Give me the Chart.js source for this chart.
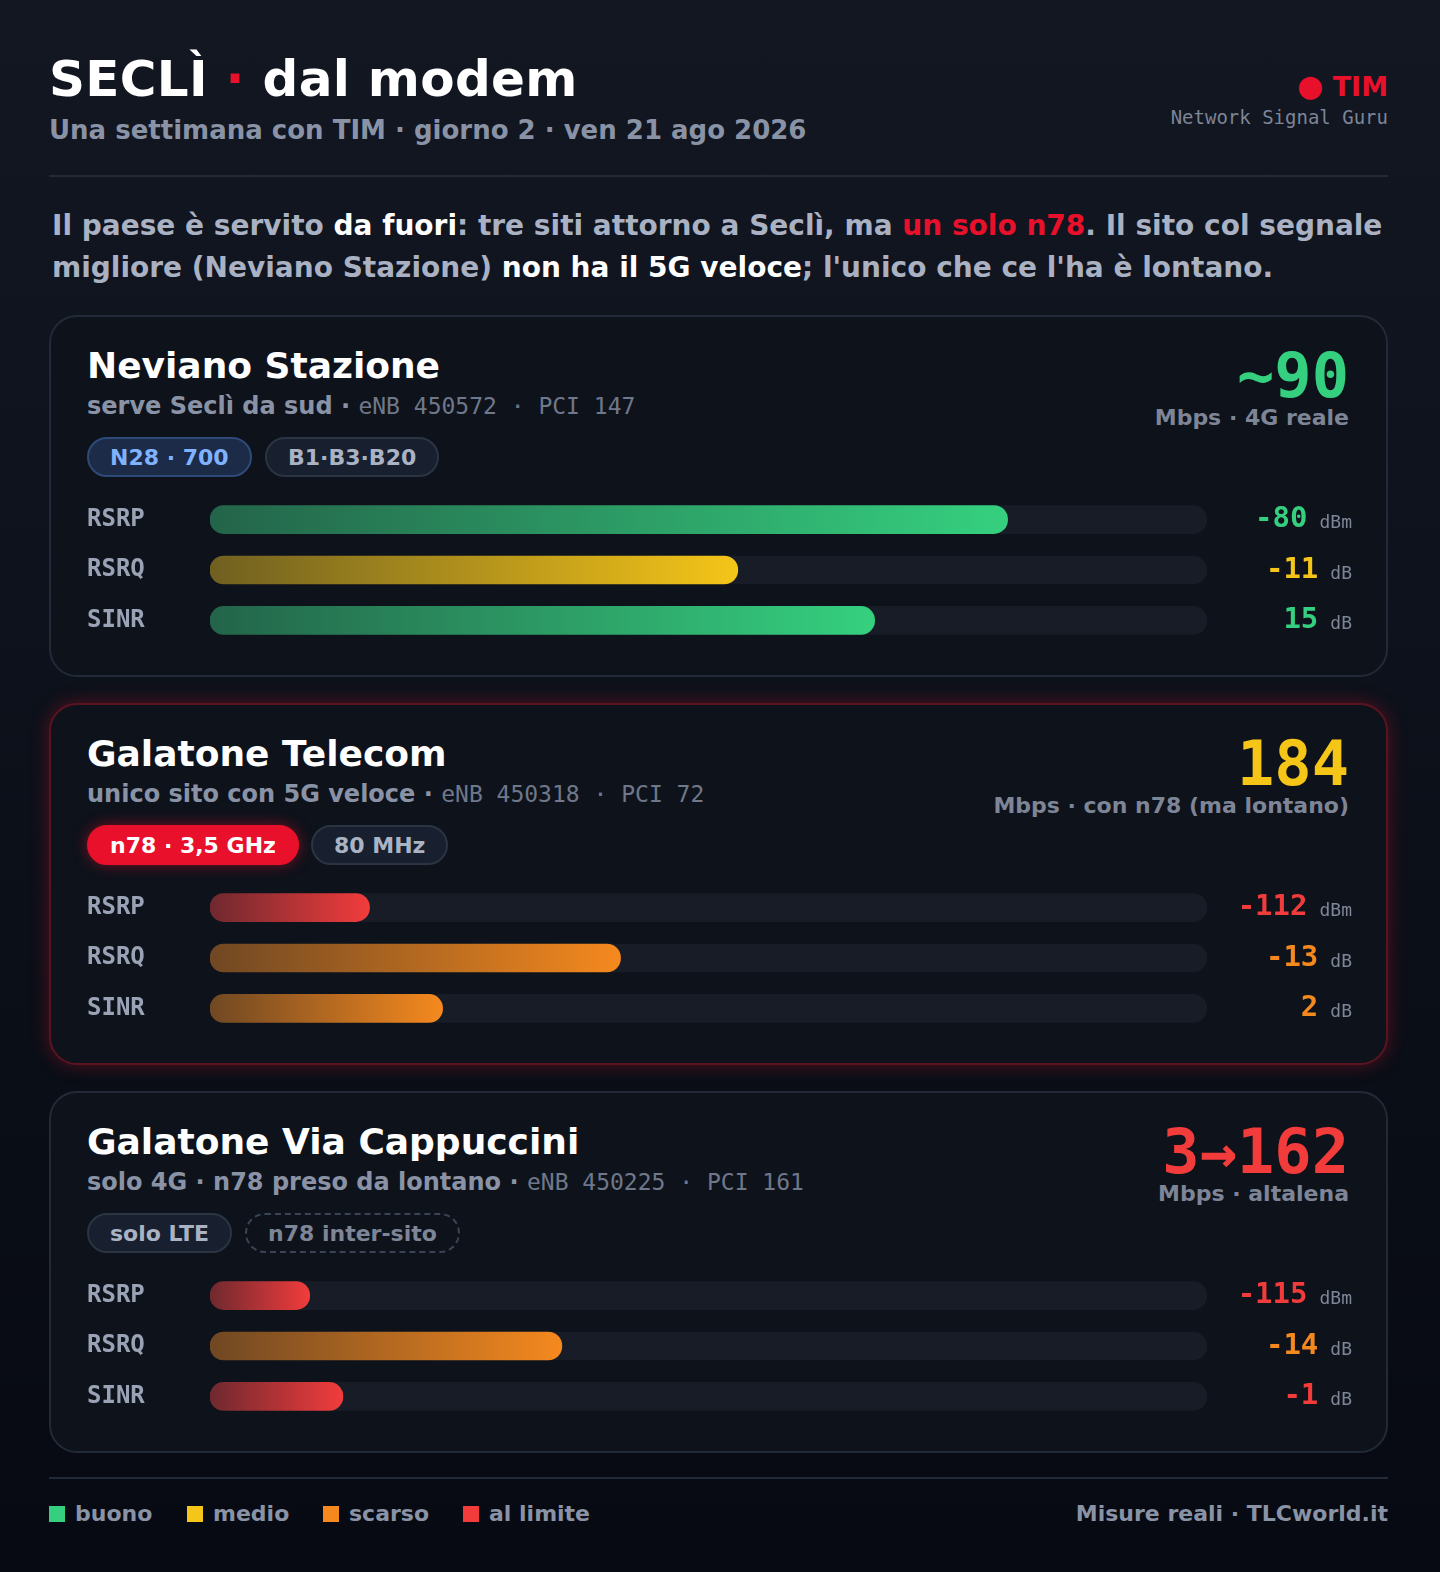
<!DOCTYPE html>
<html><head><meta charset="utf-8">
<script src="https://cdn.jsdelivr.net/npm/chart.js@4"></script>
<style>
body{margin:0;width:1440px;height:1572px;background:linear-gradient(180deg,#121722 0%,#0b0f18 60%,#070a12 100%);font-family:"DejaVu Sans",sans-serif;color:#fff;position:relative;overflow:hidden}
.abs{position:absolute}
h1{position:absolute;left:49px;top:50px;margin:0;font-size:50px;font-weight:bold;letter-spacing:0.3px}
.sub{left:49px;top:115px;font-size:26px;font-weight:bold;color:#8a93a6}
.tim{right:52px;top:68px;font-size:27px;font-weight:bold;color:#e8102a}
.guru{right:52px;top:106px;font-family:"DejaVu Sans Mono",monospace;font-size:19px;color:#7d8597}
.hr{left:49px;width:1339px;height:2px;background:#222a37}
.lead{left:52px;top:205px;font-size:28px;font-weight:bold;color:#a9b1c2;line-height:42px;width:1380px}
.lead b{color:#fff}.lead .r{color:#e8102a}
.card{left:49px;width:1339px;height:362px;border:2px solid #222a38;border-radius:28px;background:#0e121b;box-sizing:border-box}
.card.hot{border-color:#5a1420;box-shadow:0 0 18px rgba(220,20,40,0.35)}
.ct{left:36px;top:28px;font-size:36px;font-weight:bold;color:#fff}
.cs{left:36px;top:75px;font-size:24px;font-weight:bold;color:#8a93a6}
.cs span{font-family:"DejaVu Sans Mono",monospace;font-weight:normal;color:#6f788a;font-size:23px}
.big{right:37px;top:22px;font-size:62px;font-weight:bold;font-family:"DejaVu Sans Mono",monospace}
.bigs{right:37px;top:88px;font-size:22px;font-weight:bold;color:#7d8597}
.pill{top:120px;height:40px;line-height:38px;padding:0 21px;border-radius:20px;font-size:22px;font-weight:bold;box-sizing:border-box;border:2px solid #2b3443;background:#182030;color:#aab3c4}
.cv{left:36px;top:163px;width:1265px;height:180px}
.leg{top:1501px;font-size:22px;font-weight:bold;color:#8a93a6}
.sq{display:inline-block;width:16px;height:16px;margin-right:10px;vertical-align:-1px}
</style></head><body>
<h1>SECLÌ <span style="color:#e8102a">·</span> dal modem</h1>
<div class="abs sub">Una settimana con TIM · giorno 2 · ven 21 ago 2026</div>
<div class="abs tim"><span style="font-size:30px">●</span> TIM</div>
<div class="abs guru">Network Signal Guru</div>
<div class="abs hr" style="top:175px"></div>
<div class="abs lead">Il paese è servito <b>da fuori</b>: tre siti attorno a Seclì, ma <span class="r">un solo n78</span>. Il sito col segnale migliore (Neviano Stazione) <b>non ha il 5G veloce</b>; l'unico che ce l'ha è lontano.</div>

<div class="abs card" style="top:315px">
<div class="abs ct">Neviano Stazione</div>
<div class="abs cs">serve Seclì da sud · <span>eNB 450572 · PCI 147</span></div>
<div class="abs big" style="color:#35d07f">~90</div>
<div class="abs bigs">Mbps · 4G reale</div>
<div class="abs pill" style="left:36px;background:#1c2b47;border-color:#2e4a78;color:#7fb2ff">N28 · 700</div>
<div class="abs pill" style="left:214px">B1·B3·B20</div>
<div class="abs cv"><canvas id="c0"></canvas></div>
</div>
<div class="abs card hot" style="top:703px">
<div class="abs ct">Galatone Telecom</div>
<div class="abs cs">unico sito con 5G veloce · <span>eNB 450318 · PCI 72</span></div>
<div class="abs big" style="color:#f5c518">184</div>
<div class="abs bigs">Mbps · con n78 (ma lontano)</div>
<div class="abs pill" style="left:36px;background:#e8102a;border-color:#e8102a;color:#fff;box-shadow:0 0 14px rgba(232,16,42,0.5)">n78 · 3,5 GHz</div>
<div class="abs pill" style="left:260px">80 MHz</div>
<div class="abs cv"><canvas id="c1"></canvas></div>
</div>
<div class="abs card" style="top:1091px">
<div class="abs ct">Galatone Via Cappuccini</div>
<div class="abs cs">solo 4G · n78 preso da lontano · <span>eNB 450225 · PCI 161</span></div>
<div class="abs big" style="color:#f23c3c">3→162</div>
<div class="abs bigs">Mbps · altalena</div>
<div class="abs pill" style="left:36px">solo LTE</div>
<div class="abs pill" style="left:194px;background:transparent;border-style:dashed;border-color:#3a4455;color:#7d8597">n78 inter-sito</div>
<div class="abs cv"><canvas id="c2"></canvas></div>
</div>

<div class="abs hr" style="top:1477px"></div>
<div class="abs leg" style="left:49px"><span class="sq" style="background:#35d07f"></span>buono</div>
<div class="abs leg" style="left:187px"><span class="sq" style="background:#f5c518"></span>medio</div>
<div class="abs leg" style="left:323px"><span class="sq" style="background:#f5891e"></span>scarso</div>
<div class="abs leg" style="left:463px"><span class="sq" style="background:#f23c3c"></span>al limite</div>
<div class="abs leg" style="right:52px">Misure reali · TLCworld.it</div>

<script>
const metrics=["RSRP","RSRQ","SINR"];
const units=["dBm","dB","dB"];
const rangeMin=[-120,-20,-5];
const rangeMax=[-70,-3,25];
const neviano=[-80,-11,15];
const galatoneTelecom=[-112,-13,2];
const cappuccini=[-115,-14,-1];
const qualNeviano=["buono","medio","buono"];
const qualTelecom=["al limite","scarso","scarso"];
const qualCappuccini=["al limite","scarso","al limite"];
const qualColor={"buono":"#35d07f","medio":"#f5c518","scarso":"#f5891e","al limite":"#f23c3c"};
function hexA(h,a){const n=parseInt(h.slice(1),16);return `rgba(${n>>16},${(n>>8)&255},${n&255},${a})`;}
function make(id,vals,quals){
  const pct=vals.map((v,i)=>Math.max(0,Math.min(100,(v-rangeMin[i])/(rangeMax[i]-rangeMin[i])*100)));
  const cols=quals.map(q=>qualColor[q]);
  const valPlugin={id:'vals',afterDatasetsDraw(ch){const c=ch.ctx,ys=ch.scales.y;c.save();c.textBaseline='middle';
    vals.forEach((v,i)=>{const y=ys.getPixelForValue(i);c.textAlign='right';
      c.font='18px "DejaVu Sans Mono"';c.fillStyle='#7d8597';const uw=c.measureText(units[i]).width;
      c.fillText(units[i],ch.width,y+4);
      c.font='bold 29px "DejaVu Sans Mono"';c.fillStyle=cols[i];c.fillText(String(v),ch.width-uw-12,y);});c.restore();}};
  new Chart(document.getElementById(id),{type:'bar',
    data:{labels:metrics,datasets:[
      {data:pct,grouped:false,borderRadius:14,borderSkipped:false,barThickness:28,
       backgroundColor(ctx){const a=ctx.chart.chartArea;const col=cols[ctx.dataIndex];if(!a)return col;
        const x1=ctx.chart.scales.x.getPixelForValue(pct[ctx.dataIndex]);const g=ctx.chart.ctx.createLinearGradient(a.left,0,Math.max(a.left+1,x1),0);
        g.addColorStop(0,hexA(col,0.4));g.addColorStop(1,col);return g;}},
      {data:[100,100,100],grouped:false,backgroundColor:'#171c26',borderRadius:14,borderSkipped:false,barThickness:28}]},
    options:{indexAxis:'y',responsive:true,maintainAspectRatio:false,animation:false,
      layout:{padding:{right:145,top:0,bottom:0}},
      plugins:{legend:{display:false},tooltip:{enabled:false}},
      scales:{x:{min:0,max:100,display:false},
        y:{grid:{display:false},border:{display:false},afterFit(s){s.width=123;},
          ticks:{color:'#9aa3b5',font:{family:'DejaVu Sans Mono',size:24,weight:'bold'},crossAlign:'far',padding:0}}}},
    plugins:[valPlugin]});
}
make('c0',neviano,qualNeviano);
make('c1',galatoneTelecom,qualTelecom);
make('c2',cappuccini,qualCappuccini);
</script></body></html>
